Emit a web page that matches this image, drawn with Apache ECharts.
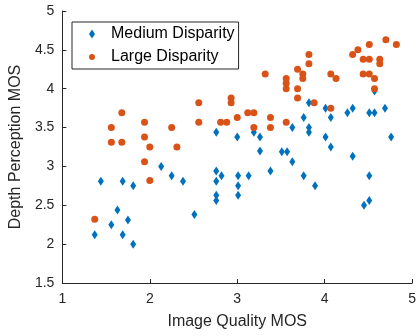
<!DOCTYPE html>
<html>
<head>
<meta charset="utf-8">
<script src="https://cdn.jsdelivr.net/npm/echarts@6/dist/echarts.min.js"></script>
<style>
html, body { margin: 0; padding: 0; background: #fff; }
#main { width: 419px; height: 336px; }
</style>
</head>
<body>
<div id="main"></div>
<script>
// Medium Disparity (blue diamonds)
var mediumX = [1.37,1.44,1.56,1.63,1.69,1.69,1.75,1.81,1.81,2.13,2.25,2.38,2.51,2.76,2.76,2.82,2.76,2.76,2.76,3.00,3.01,3.01,3.01,3.13,3.19,3.26,3.26,3.38,3.51,3.57,3.63,3.63,3.76,3.76,3.82,3.82,3.82,3.89,4.01,4.01,4.07,4.07,4.26,4.32,4.32,4.51,4.57,4.69,4.76,4.51,4.45,4.51,4.57];
var mediumY = [2.12,2.81,2.25,2.44,2.81,2.12,2.31,2.75,2.00,3.00,2.88,2.81,2.38,3.44,2.94,2.88,2.81,2.63,2.56,3.38,2.88,2.75,2.63,2.88,3.44,3.38,3.20,2.94,3.19,3.19,3.50,3.06,3.63,2.88,3.82,3.50,3.44,2.75,3.75,3.38,3.63,3.25,3.69,3.75,3.13,3.69,3.69,3.75,3.38,2.88,2.50,2.56,3.97];

// Large Disparity (orange circles)
var largeX = [1.37,1.56,1.56,1.68,1.68,1.94,1.94,2.00,1.94,2.00,2.25,2.31,2.56,2.56,2.81,2.88,2.93,2.93,3.00,3.12,3.19,3.19,3.32,3.38,3.38,3.56,3.56,3.56,3.56,3.69,3.69,3.69,3.75,3.75,3.82,3.82,3.88,4.07,4.13,4.07,4.32,4.38,4.51,4.70,4.82,4.44,4.51,4.63,4.63,4.44,4.51,4.57,4.57];
var largeY = [2.32,3.50,3.31,3.69,3.31,3.57,3.38,3.25,3.06,2.82,3.50,3.25,3.82,3.57,3.57,3.57,3.88,3.82,3.63,3.69,3.69,3.50,4.19,3.63,3.50,4.13,4.07,4.00,3.57,4.25,4.00,3.88,4.19,4.13,4.44,4.32,3.82,4.19,4.13,3.75,4.44,4.50,4.57,4.63,4.57,4.38,4.38,4.38,4.32,4.19,4.19,4.13,4.00];

var seriesNames = ['Medium Disparity', 'Large Disparity'];

function pairs(xs, ys) {
    return xs.map(function (x, i) { return [x, ys[i]]; });
}

var myChart = echarts.init(document.getElementById('main'));

var font = '"Liberation Sans", Arial, Helvetica, sans-serif';
var axisColor = '#262626';

var option = {
    animation: false,
    textStyle: { fontFamily: font },
    grid: {
        left: 61,
        right: 2,
        top: 11,
        bottom: 53
    },
    legend: {
        orient: 'vertical',
        left: 72,
        top: 22,
        padding: [3, 4, 3, 17],
        itemGap: 5,
        itemWidth: 6,
        itemHeight: 9,
        borderColor: axisColor,
        borderWidth: 1,
        backgroundColor: '#fff',
        textStyle: {
            fontFamily: font,
            fontSize: 16,
            lineHeight: 18,
            color: '#000',
            padding: [0, 0, 0, 11]
        },
        data: [
            { name: seriesNames[0], icon: 'diamond' },
            { name: seriesNames[1], icon: 'circle' }
        ]
    },
    xAxis: {
        type: 'value',
        min: 1,
        max: 5,
        interval: 1,
        name: 'Image Quality MOS',
        nameLocation: 'middle',
        nameGap: 31,
        nameTextStyle: { fontFamily: font, fontSize: 16, color: axisColor },
        axisLine: { show: true, onZero: false, lineStyle: { color: axisColor, width: 1 } },
        axisTick: { show: true, inside: true, length: 4, lineStyle: { color: axisColor } },
        axisLabel: { fontFamily: font, fontSize: 14, color: axisColor, margin: 9 },
        splitLine: { show: false }
    },
    yAxis: {
        type: 'value',
        min: 1.5,
        max: 5,
        interval: 0.5,
        name: 'Depth Perception MOS',
        nameLocation: 'middle',
        nameGap: 33,
        nameTextStyle: { fontFamily: font, fontSize: 16, color: axisColor },
        axisLine: { show: true, onZero: false, lineStyle: { color: axisColor, width: 1 } },
        axisTick: { show: true, inside: true, length: 4, lineStyle: { color: axisColor } },
        axisLabel: { fontFamily: font, fontSize: 14, color: axisColor, margin: 8 },
        splitLine: { show: false }
    },
    series: [
        {
            name: seriesNames[0],
            type: 'scatter',
            symbol: 'diamond',
            symbolSize: [6, 9],
            itemStyle: { color: '#0072BD', opacity: 1 },
            data: pairs(mediumX, mediumY)
        },
        {
            name: seriesNames[1],
            type: 'scatter',
            symbol: 'circle',
            symbolSize: 7,
            itemStyle: { color: '#D95319', opacity: 1 },
            data: pairs(largeX, largeY)
        }
    ]
};

myChart.setOption(option);
</script>
</body>
</html>
